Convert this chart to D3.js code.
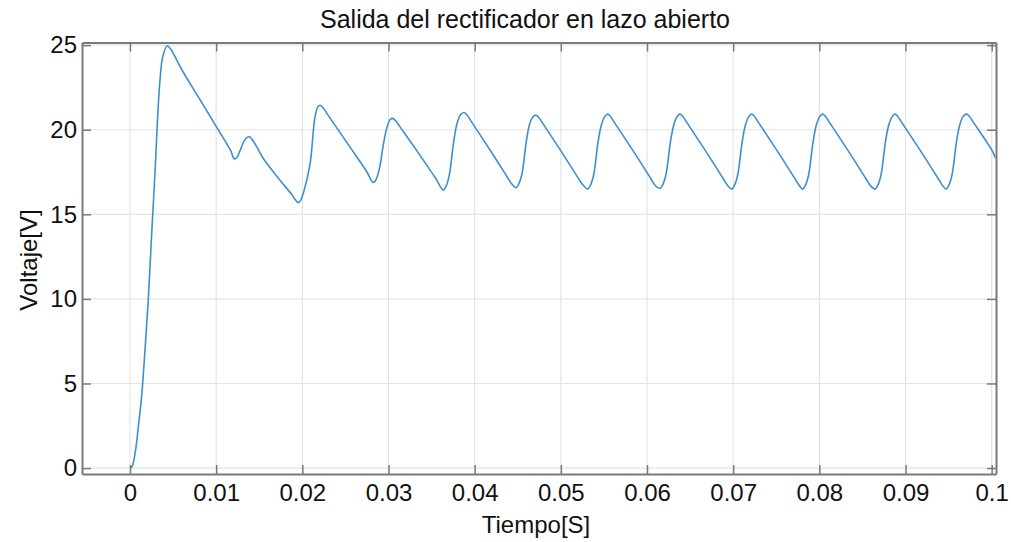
<!DOCTYPE html>
<html>
<head>
<meta charset="utf-8">
<script src="https://cdn.jsdelivr.net/npm/d3@7"></script>
<style>
  html, body { margin: 0; padding: 0; background: #ffffff; }
  svg { display: block; font-family: "Liberation Sans", Arial, Helvetica, sans-serif; }
</style>
</head>
<body>
<svg id="chart" width="1011" height="542"></svg>
<script>
// Rectifier output voltage, open loop (time in seconds, voltage in volts)
const timeS = [
  0, 0.0002, 0.0004, 0.0007, 0.001, 0.00136, 0.00174, 0.00212, 0.00252, 0.0029, 0.00317, 0.00348, 0.0038, 0.00433,
  0.0047, 0.0060, 0.0080, 0.0100, 0.0112, 0.0117, 0.0121,
  0.0124, 0.0128, 0.0132, 0.0136, 0.01384,
  0.0141, 0.0147, 0.01547, 0.01741, 0.0188, 0.0192, 0.01953,
  0.0198, 0.0202, 0.0209, 0.02147, 0.0218, 0.02205,
  0.0224, 0.0230, 0.0255, 0.0275, 0.0279, 0.02824,
  0.0285, 0.0289, 0.0294, 0.0298, 0.0302, 0.03049,
  0.0308, 0.0313, 0.0335, 0.0355, 0.0360, 0.03636,
  0.03666, 0.03706, 0.03756, 0.03796, 0.03836, 0.03876,
  0.03906, 0.03956, 0.04176, 0.04376, 0.04426, 0.04479,
  0.04509, 0.04549, 0.04599, 0.04639, 0.04679, 0.04712,
  0.04742, 0.04792, 0.05012, 0.05212, 0.05262, 0.05311,
  0.05341, 0.05381, 0.05431, 0.05471, 0.05511, 0.05543,
  0.05573, 0.05623, 0.05843, 0.06043, 0.06093, 0.06151,
  0.06181, 0.06221, 0.06271, 0.06311, 0.06351, 0.06383,
  0.06413, 0.06463, 0.06683, 0.06883, 0.06933, 0.06983,
  0.07013, 0.07053, 0.07103, 0.07143, 0.07183, 0.07215,
  0.07245, 0.07295, 0.07515, 0.07715, 0.07765, 0.07806,
  0.07836, 0.07876, 0.07926, 0.07966, 0.08006, 0.08039,
  0.08069, 0.08119, 0.08339, 0.08539, 0.08589, 0.08646,
  0.08676, 0.08716, 0.08766, 0.08806, 0.08846, 0.08878,
  0.08908, 0.08958, 0.09178, 0.09378, 0.09428, 0.0947,
  0.0950, 0.0954, 0.0959, 0.0963, 0.0967, 0.0971,
  0.0974, 0.0979, 0.1001, 0.1004
];
const voltage = [
  0, 0.05, 0.35, 1.25, 2.6, 4.3, 6.97, 9.93, 13.89, 17.43, 20.39, 22.93, 24.31, 24.96,
  24.78, 23.56, 21.88, 20.2, 19.2, 18.75, 18.28,
  18.36, 18.8, 19.3, 19.55, 19.58,
  19.47, 19.0, 18.3, 17.02, 16.15, 15.85, 15.68,
  15.82, 16.4, 18.0, 20.76, 21.35, 21.45,
  21.3, 20.85, 19.0, 17.5, 17.1, 16.88,
  17.0, 17.6, 19.1, 20.1, 20.6, 20.67,
  20.55, 20.2, 18.6, 17.1, 16.65, 16.43,
  16.63, 17.33, 19.28, 20.38, 20.88, 21.02,
  20.9, 20.52, 18.82, 17.22, 16.82, 16.57,
  16.77, 17.4, 19.3, 20.35, 20.78, 20.86,
  20.74, 20.36, 18.66, 17.06, 16.7, 16.49,
  16.69, 17.34, 19.24, 20.29, 20.79, 20.92,
  20.8, 20.42, 18.72, 17.12, 16.72, 16.53,
  16.73, 17.38, 19.26, 20.3, 20.8, 20.92,
  20.8, 20.42, 18.72, 17.12, 16.72, 16.49,
  16.69, 17.34, 19.24, 20.29, 20.79, 20.92,
  20.8, 20.42, 18.72, 17.12, 16.72, 16.49,
  16.69, 17.34, 19.24, 20.29, 20.79, 20.92,
  20.8, 20.42, 18.72, 17.12, 16.72, 16.49,
  16.69, 17.34, 19.24, 20.29, 20.79, 20.92,
  20.8, 20.42, 18.72, 17.12, 16.72, 16.49,
  16.69, 17.34, 19.24, 20.29, 20.79, 20.92,
  20.8, 20.42, 18.72, 18.35
];

const xTicks = [0, 0.01, 0.02, 0.03, 0.04, 0.05, 0.06, 0.07, 0.08, 0.09, 0.1];
const xTickLabels = ["0", "0.01", "0.02", "0.03", "0.04", "0.05", "0.06", "0.07", "0.08", "0.09", "0.1"];
const yTicks = [0, 5, 10, 15, 20, 25];
const yTickLabels = ["0", "5", "10", "15", "20", "25"];

const titleText = "Salida del rectificador en lazo abierto";
const xLabelText = "Tiempo[S]";
const yLabelText = "Voltaje[V]";

const svg = d3.select("#chart");
const plot = { left: 82, right: 996, top: 42.6, bottom: 474 };

const x = d3.scaleLinear().domain([-0.00557, 0.1005]).range([plot.left, plot.right]);
const y = d3.scaleLinear().domain([-0.35, 25.15]).range([plot.bottom, plot.top]);

const axisColor = "#7a7a7a";
const gridColor = "#e4e4e4";
const tickLen = 9;

// grid
const grid = svg.append("g");
grid.selectAll("line.gx").data(xTicks).join("line")
  .attr("x1", d => x(d)).attr("x2", d => x(d))
  .attr("y1", plot.top).attr("y2", plot.bottom)
  .attr("stroke", gridColor).attr("stroke-width", 1.2);
grid.selectAll("line.gy").data(yTicks).join("line")
  .attr("x1", plot.left).attr("x2", plot.right)
  .attr("y1", d => y(d)).attr("y2", d => y(d))
  .attr("stroke", gridColor).attr("stroke-width", 1.2);

// data line
svg.append("clipPath").attr("id", "clip").append("rect")
  .attr("x", plot.left).attr("y", plot.top)
  .attr("width", plot.right - plot.left).attr("height", plot.bottom - plot.top);

const pts = timeS.map((t, i) => [t, voltage[i]]);
const line = d3.line().x(d => x(d[0])).y(d => y(d[1])).curve(d3.curveCatmullRom.alpha(0.5));
svg.append("path").datum(pts)
  .attr("clip-path", "url(#clip)")
  .attr("d", line)
  .attr("fill", "none")
  .attr("stroke", "#3c8fd0")
  .attr("stroke-width", 1.6)
  .attr("stroke-linejoin", "round");

// axes (ticks inward, mirrored on top and right)
const fmtX = d => xTickLabels[xTicks.indexOf(d)];
const fmtY = d => yTickLabels[yTicks.indexOf(d)];

const gBottom = svg.append("g").attr("transform", `translate(0,${plot.bottom})`)
  .call(d3.axisBottom(x).tickValues(xTicks).tickFormat(fmtX).tickSizeInner(-tickLen).tickSizeOuter(0).tickPadding(10));
const gTop = svg.append("g").attr("transform", `translate(0,${plot.top})`)
  .call(d3.axisTop(x).tickValues(xTicks).tickFormat("").tickSizeInner(-tickLen).tickSizeOuter(0));
const gLeft = svg.append("g").attr("transform", `translate(${plot.left},0)`)
  .call(d3.axisLeft(y).tickValues(yTicks).tickFormat(fmtY).tickSizeInner(-tickLen).tickSizeOuter(0).tickPadding(5));
const gRight = svg.append("g").attr("transform", `translate(${plot.right},0)`)
  .call(d3.axisRight(y).tickValues(yTicks).tickFormat("").tickSizeInner(-tickLen).tickSizeOuter(0));

[gBottom, gTop, gLeft, gRight].forEach(g => {
  g.select(".domain").attr("stroke", axisColor).attr("stroke-width", 2);
  g.selectAll(".tick line").attr("stroke", axisColor).attr("stroke-width", 1.5);
  g.selectAll(".tick text").attr("fill", "#111").attr("font-size", 24)
    .attr("font-family", "'Liberation Sans', Arial, Helvetica, sans-serif");
});

// title and axis labels
svg.append("text").attr("x", 525).attr("y", 28)
  .attr("text-anchor", "middle").attr("font-size", 25).attr("fill", "#111")
  .text(titleText);
svg.append("text").attr("x", 536).attr("y", 533)
  .attr("text-anchor", "middle").attr("font-size", 24).attr("fill", "#111")
  .text(xLabelText);
svg.append("text").attr("transform", "translate(37,260) rotate(-90)")
  .attr("text-anchor", "middle").attr("font-size", 24).attr("fill", "#111")
  .text(yLabelText);
</script>
</body>
</html>
